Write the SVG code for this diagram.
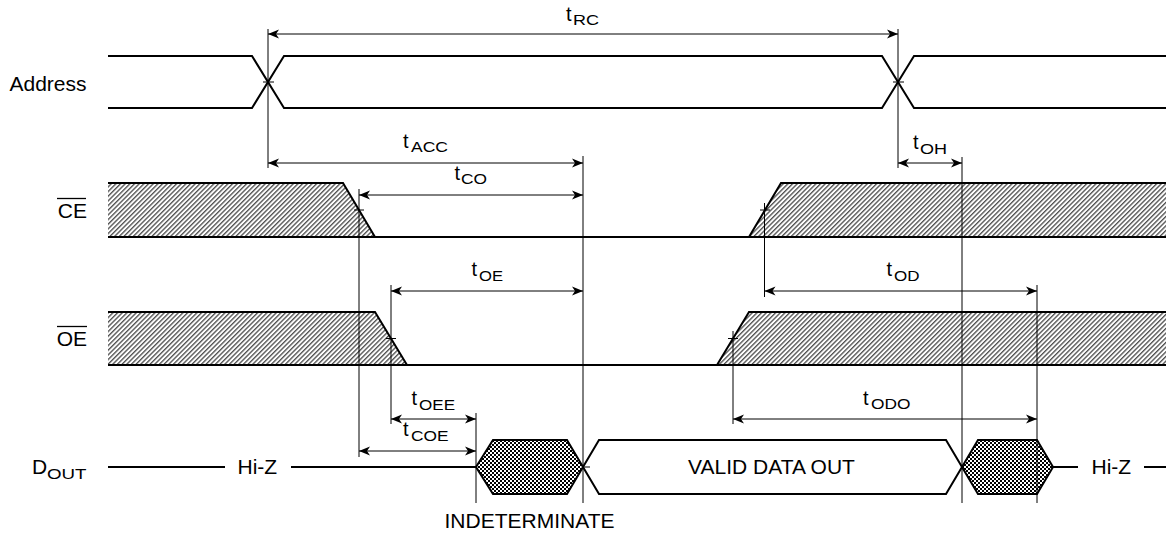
<svg xmlns="http://www.w3.org/2000/svg" width="1166" height="535" viewBox="0 0 1166 535">
<style>
.sig{fill:none;stroke:#000;stroke-width:2;stroke-linejoin:miter}
.dim{fill:none;stroke:#000;stroke-width:1}
.arr{fill:none;stroke:#000;stroke-width:1;marker-start:url(#ah);marker-end:url(#ah)}
.lbl{font-family:"Liberation Sans",Arial,sans-serif;font-size:21px;fill:#000}
.t{font-family:"Liberation Sans",Arial,sans-serif;font-size:20px;fill:#000}
.sub{font-family:"Liberation Sans",Arial,sans-serif;font-size:15.5px;fill:#000}
.hatch{fill:url(#hatch);stroke:none}
.chk{fill:url(#chk);stroke:#000;stroke-width:2}
.tick{stroke:#000;stroke-width:1}
</style>
<defs>
<pattern id="hatch" patternUnits="userSpaceOnUse" width="3.3" height="10" patternTransform="rotate(45)">
<rect width="3.3" height="10" fill="#fff"/>
<line x1="0.7" y1="0" x2="0.7" y2="10" stroke="#333" stroke-width="1.15"/>
</pattern>
<pattern id="chk" patternUnits="userSpaceOnUse" x="0" y="0" width="4" height="4">
<rect width="4" height="4" fill="#fff"/>
<rect x="0" y="0" width="2" height="2" fill="#000"/>
<rect x="2" y="2" width="2" height="2" fill="#000"/>
</pattern>
<marker id="ah" markerUnits="userSpaceOnUse" markerWidth="14" markerHeight="12" refX="0" refY="0" viewBox="-12 -6 14 12" orient="auto-start-reverse">
<path d="M0,0 L-11,-4.5 L-8,0 L-11,4.5 Z" fill="#000"/>
</marker>
</defs>
<rect width="1166" height="535" fill="#fff"/>

<g id="address">
<path class="sig" d="M108,56 H252 L284,108 H882 L914,56 H1166"/>
<path class="sig" d="M108,108 H252 L284,56 H882 L914,108 H1166"/>
<line class="tick" x1="263" y1="82" x2="274" y2="82"/>
<line class="tick" x1="893" y1="82" x2="904" y2="82"/>
<text class="lbl" x="86.5" y="91" text-anchor="end">Address</text>
</g>

<g id="ce">
<polygon class="hatch" points="108,183 343,183 375,237 108,237"/>
<polygon class="hatch" points="749,237 781,183 1166,183 1166,237"/>
<path class="sig" d="M108,183 H343 L375,237"/>
<path class="sig" d="M749,237 L781,183 H1166"/>
<path class="sig" d="M108,237 H1166"/>
<line class="tick" x1="354" y1="210" x2="364" y2="210"/>
<line class="tick" x1="760" y1="210" x2="770" y2="210"/>
<text class="lbl" x="87" y="218" text-anchor="end">CE</text>
<line x1="57" y1="198.5" x2="86" y2="198.5" stroke="#000" stroke-width="1.3"/>
</g>

<g id="oe">
<polygon class="hatch" points="108,312 375,312 407,365 108,365"/>
<polygon class="hatch" points="717,365 749,312 1166,312 1166,365"/>
<path class="sig" d="M108,312 H375 L407,365"/>
<path class="sig" d="M717,365 L749,312 H1166"/>
<path class="sig" d="M108,365 H1166"/>
<line class="tick" x1="386" y1="338.5" x2="396" y2="338.5"/>
<line class="tick" x1="728" y1="338.5" x2="738" y2="338.5"/>
<text class="lbl" x="87" y="346" text-anchor="end">OE</text>
<line x1="57" y1="326.5" x2="87" y2="326.5" stroke="#000" stroke-width="1.3"/>
</g>

<g id="dout">
<path class="sig" d="M108,467 H225"/>
<path class="sig" d="M291,467 H476"/>
<polygon class="chk" points="476,467 493,440 567,440 583,467 567,494 493,494"/>
<polygon class="sig" points="583,467 599,440 946,440 962,467 946,494 599,494"/>
<polygon class="chk" points="962,467 978,440 1037,440 1053,467 1037,494 978,494"/>
<path class="sig" d="M1053,467 H1078"/>
<path class="sig" d="M1144,467 H1166"/>
<line class="tick" x1="583" y1="467" x2="590" y2="467"/>
<text class="lbl" x="32" y="473.5">D</text>
<text class="sub" x="47" y="478.5" textLength="39.5" lengthAdjust="spacingAndGlyphs">OUT</text>
<text class="lbl" x="237.5" y="473.5">Hi-Z</text>
<text class="lbl" x="1091.5" y="473.5">Hi-Z</text>
<text class="lbl" x="771.5" y="473.5" text-anchor="middle">VALID DATA OUT</text>
<text class="lbl" x="529.5" y="527.5" text-anchor="middle">INDETERMINATE</text>
</g>

<g id="connectors">
<line class="dim" x1="268" y1="29" x2="268" y2="168"/>
<line class="dim" x1="898" y1="29" x2="898" y2="168"/>
<line class="dim" x1="359" y1="189" x2="359" y2="457"/>
<line class="dim" x1="583" y1="156" x2="583" y2="503"/>
<line class="dim" x1="962" y1="157" x2="962" y2="503"/>
<line class="dim" x1="764.5" y1="203" x2="764.5" y2="297"/>
<line class="dim" x1="391" y1="285" x2="391" y2="424"/>
<line class="dim" x1="733" y1="331" x2="733" y2="424"/>
<line class="dim" x1="1037" y1="285" x2="1037" y2="503"/>
<line class="dim" x1="476" y1="413" x2="476" y2="503"/>

<line class="arr" x1="268" y1="34" x2="898" y2="34"/>
<line class="arr" x1="268" y1="163" x2="583" y2="163"/>
<line class="arr" x1="359" y1="195" x2="583" y2="195"/>
<line class="arr" x1="898" y1="163" x2="962" y2="163"/>
<line class="arr" x1="391" y1="291" x2="583" y2="291"/>
<line class="arr" x1="764.5" y1="291" x2="1037" y2="291"/>
<line class="arr" x1="391" y1="419" x2="476" y2="419"/>
<line class="arr" x1="359" y1="451" x2="476" y2="451"/>
<line class="arr" x1="733" y1="419" x2="1037" y2="419"/>

<text class="t" x="566" y="20.5">t</text>
<text class="sub" x="573" y="25" textLength="26" lengthAdjust="spacingAndGlyphs">RC</text>
<text class="t" x="403" y="147.5">t</text>
<text class="sub" x="411" y="152" textLength="37" lengthAdjust="spacingAndGlyphs">ACC</text>
<text class="t" x="454.5" y="179.5">t</text>
<text class="sub" x="461" y="184" textLength="26" lengthAdjust="spacingAndGlyphs">CO</text>
<text class="t" x="913" y="149">t</text>
<text class="sub" x="920" y="153.5" textLength="27" lengthAdjust="spacingAndGlyphs">OH</text>
<text class="t" x="471.5" y="276">t</text>
<text class="sub" x="479" y="280.5" textLength="24" lengthAdjust="spacingAndGlyphs">OE</text>
<text class="t" x="886.5" y="276">t</text>
<text class="sub" x="894" y="280.5" textLength="25.5" lengthAdjust="spacingAndGlyphs">OD</text>
<text class="t" x="411.5" y="405">t</text>
<text class="sub" x="419" y="409.5" textLength="36" lengthAdjust="spacingAndGlyphs">OEE</text>
<text class="t" x="403" y="436">t</text>
<text class="sub" x="411" y="440.5" textLength="37.5" lengthAdjust="spacingAndGlyphs">COE</text>
<text class="t" x="863" y="404.5">t</text>
<text class="sub" x="871" y="408.7" textLength="39.5" lengthAdjust="spacingAndGlyphs">ODO</text>
</g>
</svg>
